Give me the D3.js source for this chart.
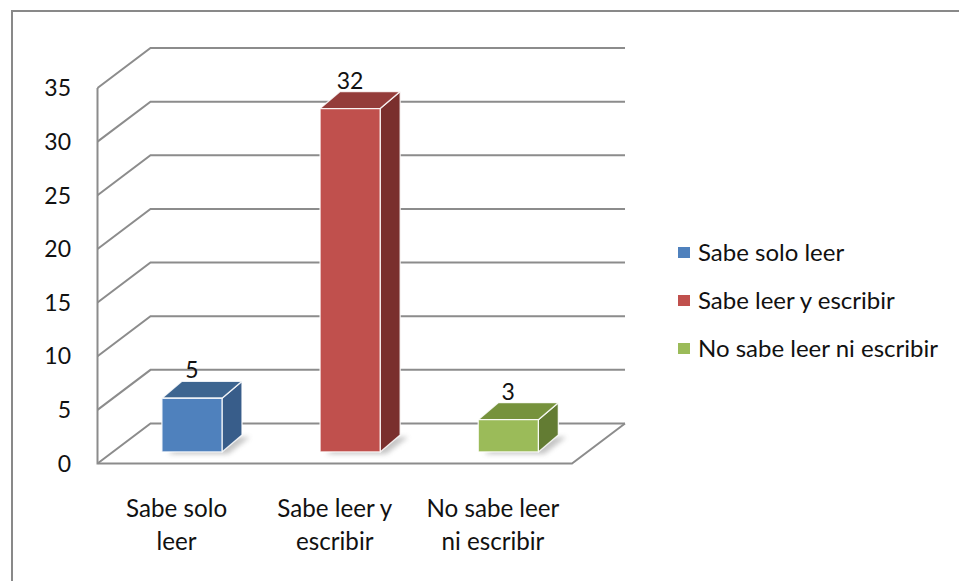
<!DOCTYPE html>
<html>
<head>
<meta charset="utf-8">
<script src="https://cdn.jsdelivr.net/npm/d3@7"></script>
<style>
  html, body { margin: 0; padding: 0; background: #fff; }
  svg { display: block; }
  text { font-family: Lato, "Open Sans", "Liberation Sans", sans-serif; fill: #111; }
</style>
</head>
<body>
<svg id="chart" width="959" height="581"></svg>
<script>
// Literacy survey: number of people per category
const categories = ["Sabe solo leer", "Sabe leer y escribir", "No sabe leer ni escribir"];
const categoryLines = [["Sabe solo", "leer"], ["Sabe leer y", "escribir"], ["No sabe leer", "ni escribir"]];
const values = [5, 32, 3];
const yTicks = [0, 5, 10, 15, 20, 25, 30, 35];

// Face colours for each series: front, top, side
const frontColors = ["#4f81bd", "#c0504d", "#9bbb59"];
const topColors = ["#3d6590", "#943c3a", "#76923c"];
const sideColors = ["#385d8a", "#7a2f2d", "#637c33"];

const svg = d3.select("#chart");

// Outer chart frame
svg.append("rect")
  .attr("x", 12).attr("y", 11).attr("width", 1000).attr("height", 600)
  .attr("fill", "none").attr("stroke", "#898989").attr("stroke-width", 2);

// 3D box geometry
const frontLeft = 97.5, frontRight = 572;
const floorY = 463.5, topY = 88;
const depthX = 53, depthY = 40;

const x = d3.scaleBand().domain(categories).range([frontLeft, frontRight]);
const y = d3.scaleLinear().domain([0, 35]).range([floorY, topY]);

const gridColor = "#8c8c8c";
const grid = svg.append("g").attr("stroke", gridColor).attr("stroke-width", 2).attr("fill", "none");

// Back wall gridlines and left wall diagonals
yTicks.forEach(t => {
  const yf = y(t), yb = y(t) - depthY;
  grid.append("path")
    .attr("d", d3.line()([[frontLeft, yf], [frontLeft + depthX, yb], [frontRight + depthX, yb]]));
});

// Floor front and right edges, vertical axis
grid.append("path").attr("d", d3.line()([[frontLeft, topY], [frontLeft, floorY], [frontRight, floorY], [frontRight + depthX, floorY - depthY]]));

// Y tick labels
svg.append("g").selectAll("text").data(yTicks).join("text")
  .attr("x", 71).attr("y", d => y(d))
  .attr("dy", "0.36em")
  .attr("text-anchor", "end")
  .attr("font-size", 23)
  .text(d => d);

// Bars
const depthStart = 0.29;
const barDx = 20, barDy = 17;
const defs = svg.append("defs");
defs.append("filter").attr("id", "shadowBlur")
  .attr("x", "-30%").attr("y", "-30%").attr("width", "160%").attr("height", "160%")
  .append("feGaussianBlur").attr("stdDeviation", 2.5);

const bars = svg.append("g");
categories.forEach((c, i) => {
  const bw = x.bandwidth();
  const w = bw * 0.38;
  const x0 = x(c) + (bw - w) / 2 + depthStart * depthX;
  const bottom = floorY - depthStart * depthY;
  const top = bottom - (floorY - y(values[i]));

  // soft floor shadow
  bars.append("polygon")
    .attr("points", [[x0 + 6, bottom + 2], [x0 + w + 6, bottom + 2], [x0 + w + barDx + 8, bottom - barDy + 2], [x0 + barDx + 8, bottom - barDy + 2]].join(" "))
    .attr("fill", "#7f7f7f").attr("opacity", 0.45).attr("filter", "url(#shadowBlur)");

  const edge = { stroke: "#ffffff", "stroke-width": 1.3, "stroke-opacity": 0.85, "stroke-linejoin": "round" };
  const face = (pts, fill) => {
    const p = bars.append("polygon").attr("points", pts.join(" ")).attr("fill", fill);
    Object.entries(edge).forEach(([k, v]) => p.attr(k, v));
  };
  face([[x0 + w, top], [x0 + w + barDx, top - barDy], [x0 + w + barDx, bottom - barDy], [x0 + w, bottom]], sideColors[i]);
  face([[x0, top], [x0 + w, top], [x0 + w + barDx, top - barDy], [x0 + barDx, top - barDy]], topColors[i]);
  face([[x0, top], [x0 + w, top], [x0 + w, bottom], [x0, bottom]], frontColors[i]);

  // value label
  svg.append("text")
    .attr("x", x0 + w / 2).attr("y", top - barDy - 3)
    .attr("text-anchor", "middle").attr("font-size", 23)
    .text(values[i]);
});

// Category labels (two lines each, condensed)
const catG = svg.append("g");
categories.forEach((c, i) => {
  const cx = x(c) + x.bandwidth() / 2;
  const t = catG.append("text")
    .attr("transform", `translate(${cx},0) scale(0.93,1)`)
    .attr("text-anchor", "middle").attr("font-size", 26);
  categoryLines[i].forEach((line, j) => {
    t.append("tspan").attr("x", 0).attr("y", 517 + j * 33).text(line);
  });
});

// Legend
const legend = svg.append("g");
categories.forEach((c, i) => {
  const ly = 247 + i * 48;
  legend.append("rect").attr("x", 678).attr("y", ly).attr("width", 12).attr("height", 11).attr("fill", frontColors[i]);
  legend.append("text").attr("x", 698).attr("y", ly + 14).attr("font-size", 24).text(c);
});
</script>
</body>
</html>
